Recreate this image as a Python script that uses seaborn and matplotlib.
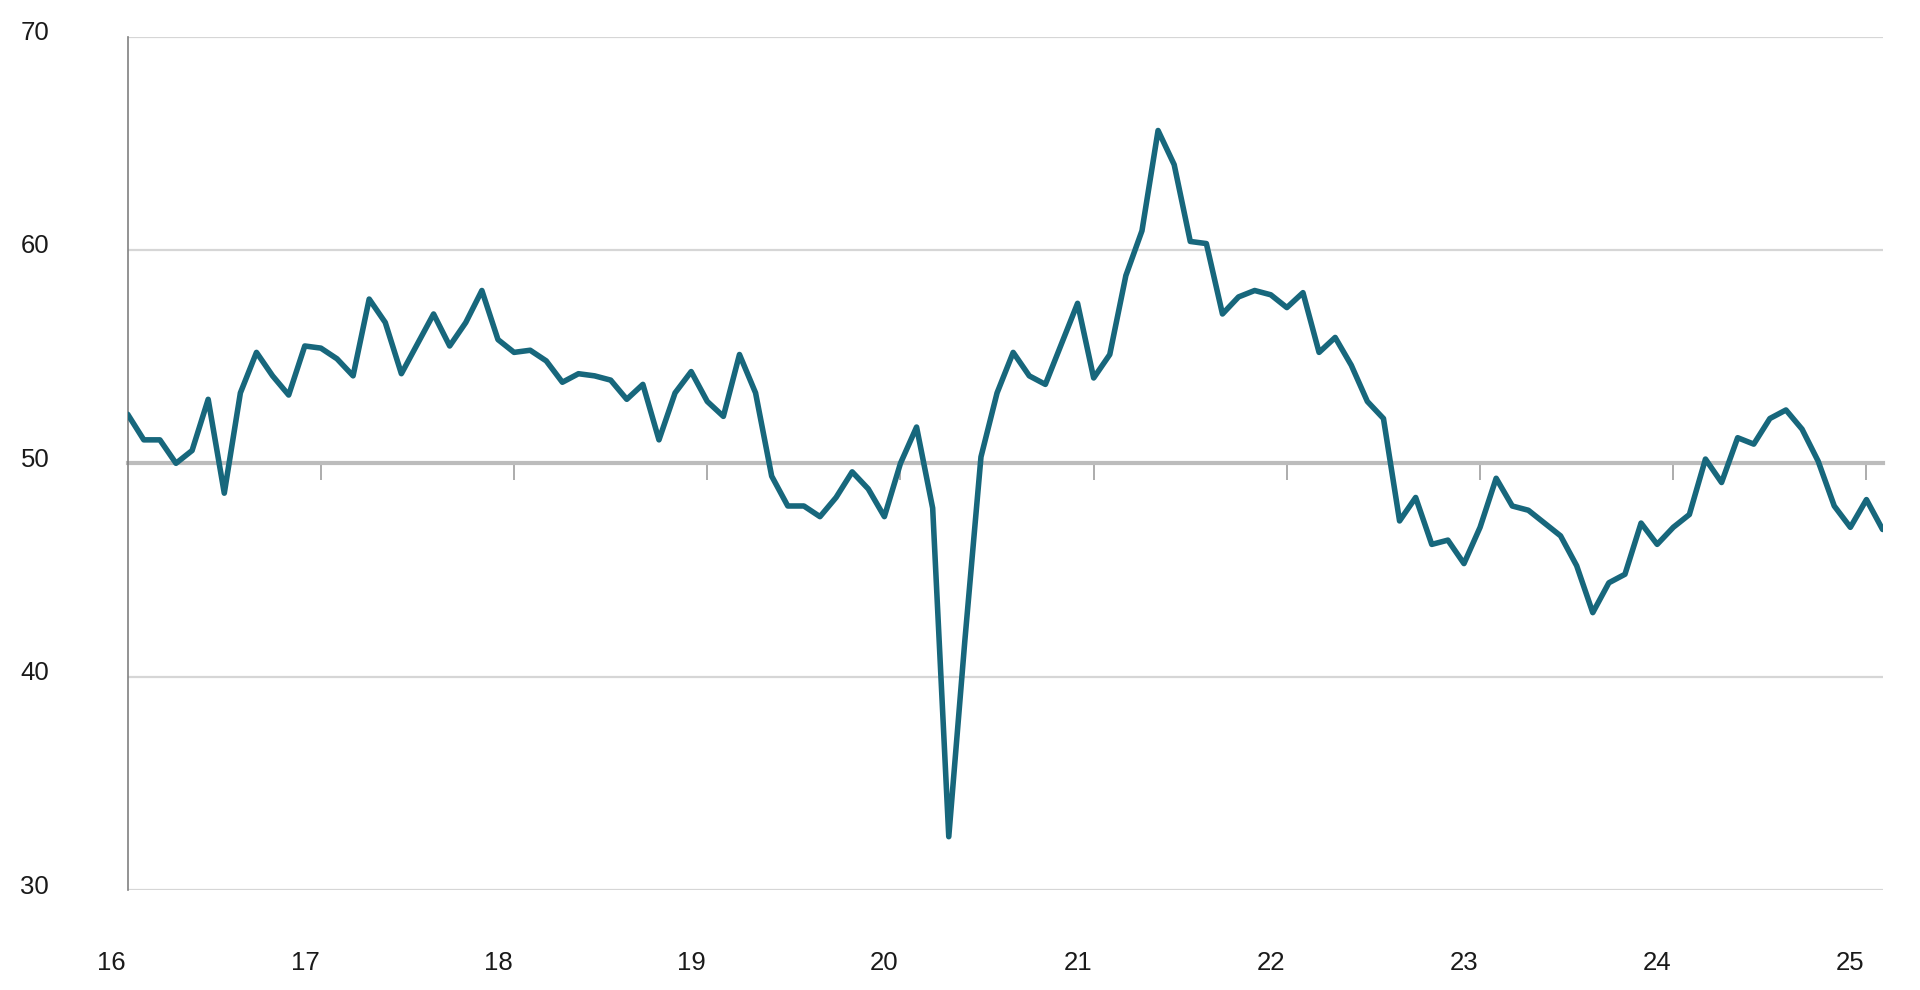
import numpy as np
import pandas as pd
import matplotlib
matplotlib.use("Agg")
import matplotlib.pyplot as plt
import matplotlib.transforms as mtransforms
import seaborn as sns

# Year labels (two-digit), one tick per January
year_labels = ["16", "17", "18", "19", "20", "21", "22", "23", "24", "25"]

# Monthly index values, Jan 2016 .. Feb 2025
values_2016 = [52.3, 51.1, 51.1, 50.0, 50.6, 53.0, 48.6, 53.3, 55.2, 54.1, 53.2, 55.5]
values_2017 = [55.4, 54.9, 54.1, 57.7, 56.6, 54.2, 55.6, 57.0, 55.5, 56.6, 58.1, 55.8]
values_2018 = [55.2, 55.3, 54.8, 53.8, 54.2, 54.1, 53.9, 53.0, 53.7, 51.1, 53.3, 54.3]
values_2019 = [52.9, 52.2, 55.1, 53.3, 49.4, 48.0, 48.0, 47.5, 48.4, 49.6, 48.8, 47.5]
values_2020 = [50.0, 51.7, 47.9, 32.5, 41.7, 50.3, 53.3, 55.2, 54.1, 53.7, 55.6, 57.5]
values_2021 = [54.0, 55.1, 58.8, 60.9, 65.6, 64.0, 60.4, 60.3, 57.0, 57.8, 58.1, 57.9]
values_2022 = [57.3, 58.0, 55.2, 55.9, 54.6, 52.9, 52.1, 47.3, 48.4, 46.2, 46.4, 45.3]
values_2023 = [47.0, 49.3, 48.0, 47.8, 47.2, 46.6, 45.2, 43.0, 44.4, 44.8, 47.2, 46.2]
values_2024 = [47.0, 47.6, 50.2, 49.1, 51.2, 50.9, 52.1, 52.5, 51.6, 50.1, 48.0, 47.0]
values_2025 = [48.3, 46.9]

values = (values_2016 + values_2017 + values_2018 + values_2019 + values_2020
          + values_2021 + values_2022 + values_2023 + values_2024 + values_2025)
month_index = np.arange(len(values))
df = pd.DataFrame({"month": month_index, "value": values})

sns.set_theme(style="white")
plt.rcParams["font.family"] = ["Liberation Sans", "DejaVu Sans"]

fig = plt.figure(figsize=(19.2, 9.9), dpi=100)
fig.patch.set_facecolor("white")
ax = fig.add_axes([0.0665, 0.101, 0.914, 0.862])

sns.lineplot(data=df, x="month", y="value", ax=ax, color="#17677c",
             linewidth=4.0, zorder=5)

ax.set_xlim(0, len(values) - 1)
ax.set_ylim(30, 70)
ax.set_xlabel("")
ax.set_ylabel("")

# Horizontal grid
ax.set_yticks([30, 40, 50, 60, 70])
ax.yaxis.grid(True, color="#d6d6d6", linewidth=1.6)
ax.xaxis.grid(False)
ax.set_axisbelow(True)

# Spines
for s in ["top", "right", "bottom"]:
    ax.spines[s].set_visible(False)
ax.spines["left"].set_color("#808080")
ax.spines["left"].set_linewidth(1.2)

# Y tick labels
ax.tick_params(axis="y", direction="out", length=6.5, width=1.6,
               color="#d6d6d6", pad=50, labelsize=18.5, labelcolor="#1a1a1a")
yoff = mtransforms.ScaledTranslation(0, -3.5 / 100, fig.dpi_scale_trans)
for lab in ax.get_yticklabels():
    lab.set_verticalalignment("baseline")
    lab.set_transform(lab.get_transform() + yoff)

# X labels at the bottom (no tick marks), shifted a little left
year_ticks = np.arange(len(year_labels)) * 12
ax.set_xticks(year_ticks)
ax.set_xticklabels(year_labels)
ax.tick_params(axis="x", length=0, pad=44, labelsize=18.5, labelcolor="#1a1a1a")
offset = mtransforms.ScaledTranslation(-16 / 100, 0, fig.dpi_scale_trans)
for lab in ax.get_xticklabels():
    lab.set_transform(lab.get_transform() + offset)

# Axis line at 50 with year tick marks
sec = ax.secondary_xaxis(0.5)
sec.set_alignment("bottom")
sec.set_xticks(year_ticks[1:])
sec.tick_params(axis="x", direction="out", length=12, width=1.3,
                color="#a6a6a6", labelbottom=False, labeltop=False)
sec.spines["bottom"].set_color("#bcbcbc")
sec.spines["bottom"].set_linewidth(3.0)
sec.set_zorder(1)

fig.savefig("out.png", dpi=100, facecolor="white")
